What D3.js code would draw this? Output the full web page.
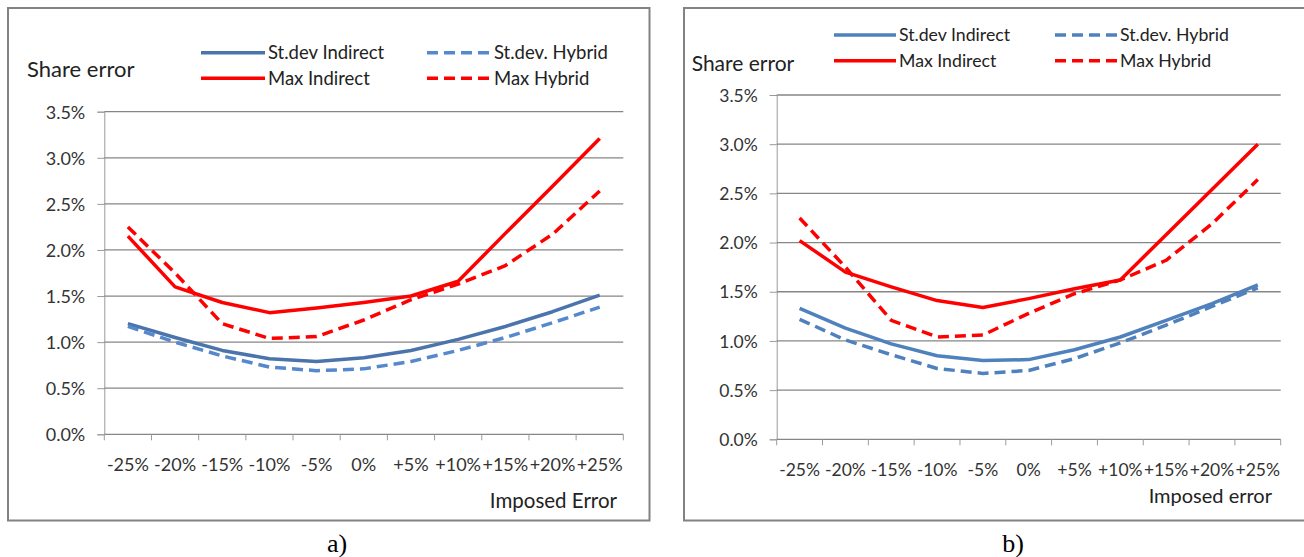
<!DOCTYPE html>
<html>
<head>
<meta charset="utf-8">
<script src="https://cdn.jsdelivr.net/npm/d3@7"></script>
<style>
  body { margin: 0; background: #fff; }
  svg { display: block; font-family: Lato, "Open Sans", sans-serif; }
</style>
</head>
<body>
<svg id="chart" width="1304" height="557"></svg>
<script>
// categories (imposed error) and y ticks (share error, %)
const categories = ["-25%", "-20%", "-15%", "-10%", "-5%", "0%", "+5%", "+10%", "+15%", "+20%", "+25%"];
const yTicks = [0, 0.5, 1.0, 1.5, 2.0, 2.5, 3.0, 3.5];

// panel a)
const stdevIndirectA = [1.20, 1.05, 0.91, 0.82, 0.79, 0.83, 0.91, 1.03, 1.17, 1.33, 1.51];
const stdevHybridA   = [1.17, 1.00, 0.85, 0.73, 0.69, 0.71, 0.79, 0.91, 1.05, 1.21, 1.38];
const maxIndirectA   = [2.15, 1.60, 1.43, 1.32, 1.37, 1.43, 1.50, 1.66, 2.18, 2.69, 3.21];
const maxHybridA     = [2.25, 1.75, 1.20, 1.04, 1.06, 1.24, 1.46, 1.63, 1.83, 2.17, 2.64];

// panel b)
const stdevIndirectB = [1.33, 1.13, 0.97, 0.85, 0.80, 0.81, 0.91, 1.04, 1.21, 1.38, 1.57];
const stdevHybridB   = [1.22, 1.01, 0.86, 0.72, 0.67, 0.70, 0.82, 0.98, 1.16, 1.35, 1.54];
const maxIndirectB   = [2.02, 1.70, 1.55, 1.41, 1.34, 1.43, 1.53, 1.62, 2.08, 2.54, 3.00];
const maxHybridB     = [2.25, 1.75, 1.21, 1.04, 1.06, 1.28, 1.48, 1.62, 1.82, 2.19, 2.64];

const legendNames = ["St.dev Indirect", "St.dev. Hybrid", "Max Indirect", "Max Hybrid"];

const svg = d3.select("#chart");

function drawPanel(p) {
  const g = svg.append("g");

  // outer frame
  g.append("rect")
    .attr("x", p.frame[0]).attr("y", p.frame[1])
    .attr("width", p.frame[2] - p.frame[0]).attr("height", p.frame[3] - p.frame[1])
    .attr("fill", "none").attr("stroke", "#828282").attr("stroke-width", 2);

  const x = d3.scaleBand().domain(categories).range([p.x0, p.x1]).padding(0);
  const y = d3.scaleLinear().domain([0, 3.5]).range([p.yb, p.yt]);

  // y axis with gridlines
  const yAxis = g.append("g")
    .attr("transform", `translate(${p.x0},0)`)
    .call(d3.axisLeft(y).tickValues(yTicks).tickSize(7).tickFormat(d => d.toFixed(1) + "%"));
  yAxis.select(".domain").attr("stroke", "#9a9a9a");
  yAxis.selectAll(".tick line").attr("stroke", "#9a9a9a");
  yAxis.selectAll(".tick text")
    .attr("x", -19).attr("dy", "0.35em")
    .attr("fill", "#333").style("font-size", p.tickFont + "px").style("font-family", "Lato, sans-serif");

  g.append("g").selectAll("line")
    .data(yTicks.filter(d => d > 0))
    .join("line")
    .attr("x1", p.x0).attr("x2", p.x1)
    .attr("y1", d => y(d)).attr("y2", d => y(d))
    .attr("stroke", "#868686").attr("stroke-width", 1.3);

  // x axis, ticks between categories
  const xAxis = g.append("g")
    .attr("transform", `translate(0,${p.yb})`)
    .call(d3.axisBottom(x).tickSize(0).tickPadding(24));
  xAxis.select(".domain").remove();
  xAxis.selectAll(".tick text")
    .attr("fill", "#333").style("font-size", p.tickFont + "px").style("font-family", "Lato, sans-serif");
  g.append("line")
    .attr("x1", p.x0).attr("x2", p.x1).attr("y1", p.yb).attr("y2", p.yb)
    .attr("stroke", "#868686").attr("stroke-width", 1.3);
  const bounds = categories.map(c => x(c)).concat([p.x1]);
  g.append("g").selectAll("line")
    .data(bounds)
    .join("line")
    .attr("x1", d => d).attr("x2", d => d)
    .attr("y1", p.yb).attr("y2", p.yb + 6)
    .attr("stroke", "#9a9a9a");

  // titles
  g.append("text")
    .attr("x", p.yTitle[0]).attr("y", p.yTitle[1])
    .attr("fill", "#222").style("font-size", p.titleFont + "px")
    .text("Share error");
  g.append("text")
    .attr("x", p.xTitle[0]).attr("y", p.xTitle[1])
    .attr("text-anchor", "end")
    .attr("fill", "#222").style("font-size", p.xTitleFont + "px")
    .text(p.xTitleText);

  // series
  const line = d3.line()
    .x((d, i) => x(categories[i]) + x.bandwidth() / 2)
    .y(d => y(d));
  p.series.forEach(s => {
    g.append("path")
      .datum(s.values)
      .attr("d", line)
      .attr("fill", "none")
      .attr("stroke", s.color)
      .attr("stroke-width", 3.5)
      .attr("stroke-linejoin", "round")
      .attr("stroke-dasharray", s.dashed ? "11,6" : null);
  });

  // legend, 2x2
  p.series.forEach((s, i) => {
    const col = i % 2, row = Math.floor(i / 2);
    const ly = p.legRows[row];
    const lx = p.legCols[col];
    g.append("line")
      .attr("x1", lx).attr("x2", lx + p.legLen)
      .attr("y1", ly).attr("y2", ly)
      .attr("stroke", s.color).attr("stroke-width", 3.5)
      .attr("stroke-dasharray", s.dashed ? "11,6" : null);
    g.append("text")
      .attr("x", lx + p.legLen + 3).attr("y", ly)
      .attr("dy", "0.35em")
      .attr("fill", "#222").style("font-size", p.legFont + "px")
      .text(legendNames[i]);
  });

  // caption
  svg.append("text")
    .attr("x", p.caption[0]).attr("y", p.caption[1])
    .attr("text-anchor", "middle")
    .style("font-family", "'Liberation Serif', serif").style("font-size", "26px")
    .attr("fill", "#000")
    .text(p.captionText);
}

drawPanel({
  frame: [8, 8, 649.5, 520.5],
  x0: 104.3, x1: 623.3, yt: 111.7, yb: 434.3,
  tickFont: 18, titleFont: 22, xTitleFont: 20.5, legFont: 18.5,
  yTitle: [27, 77], xTitle: [617, 508], xTitleText: "Imposed Error",
  legRows: [52.7, 78.3], legCols: [201, 427], legLen: 64,
  caption: [337, 552], captionText: "a)",
  series: [
    { values: stdevIndirectA, color: "#4A74AB", dashed: false },
    { values: stdevHybridA, color: "#5588CC", dashed: true },
    { values: maxIndirectA, color: "#FF0000", dashed: false },
    { values: maxHybridA, color: "#FF0000", dashed: true }
  ]
});

drawPanel({
  frame: [684, 8, 1306, 520.5],
  x0: 776.7, x1: 1280.7, yt: 95, yb: 439.3,
  tickFont: 17.5, titleFont: 21, xTitleFont: 20, legFont: 17.7,
  yTitle: [691.7, 70.7], xTitle: [1272, 503], xTitleText: "Imposed error",
  legRows: [35, 60.7], legCols: [834, 1055], legLen: 62,
  caption: [1013, 552], captionText: "b)",
  series: [
    { values: stdevIndirectB, color: "#4F81BD", dashed: false },
    { values: stdevHybridB, color: "#4F81BD", dashed: true },
    { values: maxIndirectB, color: "#FF0000", dashed: false },
    { values: maxHybridB, color: "#FF0000", dashed: true }
  ]
});
</script>
</body>
</html>
